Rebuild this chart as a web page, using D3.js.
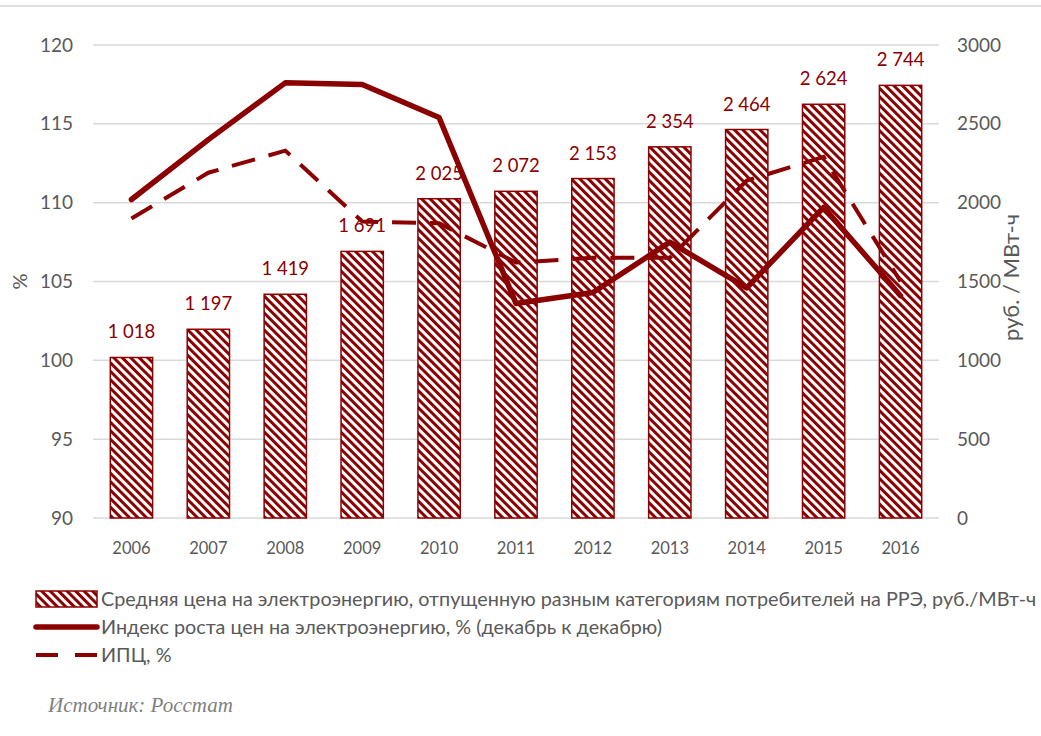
<!doctype html>
<html>
  <head>
    <meta charset="utf-8">
    <title>Цены на электроэнергию</title>
    <script type="text/javascript" src="https://cdn.jsdelivr.net/npm/d3@7"></script>
    <style>
      body { margin: 0; background: #fff; }
      text { font-family: Lato, "Noto Sans", sans-serif; }
    </style>
  </head>
  <body>
    <script>
      // данные
      const years = ['2006', '2007', '2008', '2009', '2010', '2011', '2012', '2013', '2014', '2015', '2016'];
      const avgPrice = [1018, 1197, 1419, 1691, 2025, 2072, 2153, 2354, 2464, 2624, 2744];
      const priceIndex = [110.2, 114.0, 117.6, 117.5, 115.4, 103.6, 104.3, 107.5, 104.6, 109.7, 104.1];
      const cpi = [109.0, 111.9, 113.3, 108.8, 108.7, 106.2, 106.5, 106.5, 111.4, 112.9, 105.0];
      const leftTicks = [90, 95, 100, 105, 110, 115, 120];
      const rightTicks = [0, 500, 1000, 1500, 2000, 2500, 3000];
      const legendLabels = [
        'Средняя цена на электроэнергию, отпущенную разным категориям потребителей на РРЭ, руб./МВт-ч',
        'Индекс роста цен на электроэнергию, % (декабрь к декабрю)',
        'ИПЦ, %'
      ];

      const width = 1041;
      const height = 736;
      const red = '#8b0000';
      const grey = '#595959';
      const margin = { left: 93, right: 102, top: 45, bottom: 218 };

      const svg = d3.select('body').append('svg')
          .attr('width', width)
          .attr('height', height);

      // штриховка (широкая нисходящая диагональ)
      const defs = svg.append('defs');
      const pat = defs.append('pattern')
          .attr('id', 'hatch')
          .attr('patternUnits', 'userSpaceOnUse')
          .attr('width', 6)
          .attr('height', 6)
          .attr('patternTransform', 'rotate(-45)');
      pat.append('rect').attr('width', 6).attr('height', 6).attr('fill', '#fff');
      pat.append('rect').attr('width', 3).attr('height', 6).attr('fill', red);

      // верхняя линия
      svg.append('line')
          .attr('x1', 0).attr('x2', width)
          .attr('y1', 6).attr('y2', 6)
          .attr('stroke', '#e0e0e0')
          .attr('stroke-width', 2);

      const x = d3.scaleBand()
          .domain(years)
          .range([margin.left, width - margin.right])
          .paddingInner(0.45)
          .paddingOuter(0.225);

      const yLeft = d3.scaleLinear()
          .domain([90, 120])
          .range([height - margin.bottom, margin.top]);

      const yRight = d3.scaleLinear()
          .domain([0, 3000])
          .range([height - margin.bottom, margin.top]);

      // сетка
      svg.append('g')
        .selectAll('line')
        .data(leftTicks)
        .enter().append('line')
          .attr('x1', margin.left)
          .attr('x2', width - margin.right)
          .attr('y1', d => yLeft(d))
          .attr('y2', d => yLeft(d))
          .attr('stroke', '#d9d9d9')
          .attr('stroke-width', 1.5);

      // оси
      const axisLeft = svg.append('g')
          .attr('transform', `translate(${margin.left},0)`)
          .call(d3.axisLeft(yLeft).tickValues(leftTicks).tickSize(0).tickPadding(20));
      const axisRight = svg.append('g')
          .attr('transform', `translate(${width - margin.right},0)`)
          .call(d3.axisRight(yRight).tickValues(rightTicks).tickFormat(d3.format('d')).tickSize(0).tickPadding(18));
      const axisBottom = svg.append('g')
          .attr('transform', `translate(0,${height - margin.bottom})`)
          .call(d3.axisBottom(x).tickSize(0).tickPadding(24));

      [axisLeft, axisRight, axisBottom].forEach(g => {
        g.select('.domain').remove();
        g.selectAll('text')
            .attr('fill', grey)
            .style('font-family', 'Lato, "Noto Sans", sans-serif');
      });
      axisLeft.selectAll('text').attr('font-size', 19);
      axisRight.selectAll('text').attr('font-size', 19);
      axisBottom.selectAll('text').attr('font-size', 16.5);

      // подписи осей
      svg.append('text')
          .attr('transform', `translate(27,${yLeft(105)}) rotate(-90)`)
          .attr('text-anchor', 'middle')
          .attr('font-size', 20)
          .attr('fill', grey)
          .text('%');
      svg.append('text')
          .attr('transform', `translate(1019,${yLeft(105) - 4}) rotate(-90)`)
          .attr('text-anchor', 'middle')
          .attr('font-size', 22)
          .attr('fill', grey)
          .text('руб. / МВт-ч');

      // столбцы
      svg.append('g')
        .selectAll('rect')
        .data(avgPrice)
        .enter().append('rect')
          .attr('x', (d, i) => x(years[i]))
          .attr('y', d => yRight(d))
          .attr('width', x.bandwidth())
          .attr('height', d => yRight(0) - yRight(d))
          .attr('fill', 'url(#hatch)')
          .attr('stroke', red)
          .attr('stroke-width', 1.5);

      const fmt = d3.formatLocale({ decimal: ',', thousands: '\u00a0', grouping: [3], currency: ['', ''] }).format(',d');

      // линии
      const line = d3.line()
          .x((d, i) => x(years[i]) + x.bandwidth() / 2)
          .y(d => yLeft(d));

      svg.append('path')
          .datum(cpi)
          .attr('d', line)
          .attr('fill', 'none')
          .attr('stroke', red)
          .attr('stroke-width', 4)
          .attr('stroke-dasharray', '24 14');

      svg.append('path')
          .datum(priceIndex)
          .attr('d', line)
          .attr('fill', 'none')
          .attr('stroke', red)
          .attr('stroke-width', 5.5)
          .attr('stroke-linejoin', 'round')
          .attr('stroke-linecap', 'round');

      // подписи значений
      svg.append('g')
        .selectAll('text')
        .data(avgPrice)
        .enter().append('text')
          .attr('x', (d, i) => x(years[i]) + x.bandwidth() / 2)
          .attr('y', d => yRight(d) - 19)
          .attr('text-anchor', 'middle')
          .attr('font-size', 18.5)
          .attr('fill', red)
          .text(d => fmt(d));

      // легенда
      const legend = svg.append('g');
      const ly = [599, 627, 655];
      legend.append('rect')
          .attr('x', 36).attr('y', 591)
          .attr('width', 61).attr('height', 16)
          .attr('fill', 'url(#hatch)')
          .attr('stroke', red)
          .attr('stroke-width', 1.5);
      legend.append('line')
          .attr('x1', 36).attr('x2', 97)
          .attr('y1', ly[1]).attr('y2', ly[1])
          .attr('stroke', red)
          .attr('stroke-width', 5.5)
          .attr('stroke-linecap', 'round');
      legend.append('line')
          .attr('x1', 36).attr('x2', 97)
          .attr('y1', ly[2]).attr('y2', ly[2])
          .attr('stroke', red)
          .attr('stroke-width', 4)
          .attr('stroke-dasharray', '22 17');
      legend.selectAll('text.lg')
        .data(legendLabels)
        .enter().append('text')
          .attr('class', 'lg')
          .attr('x', 101)
          .attr('y', (d, i) => ly[i])
          .attr('dy', '0.35em')
          .attr('font-size', 19.8)
          .attr('fill', grey)
          .text(d => d);

      // источник
      svg.append('text')
          .attr('x', 48)
          .attr('y', 712)
          .attr('font-size', 21)
          .attr('font-style', 'italic')
          .attr('fill', '#7f7f7f')
          .style('font-family', '"Liberation Serif", "DejaVu Serif", serif')
          .text('Источник: Росстат');
    </script>
  </body>
</html>
